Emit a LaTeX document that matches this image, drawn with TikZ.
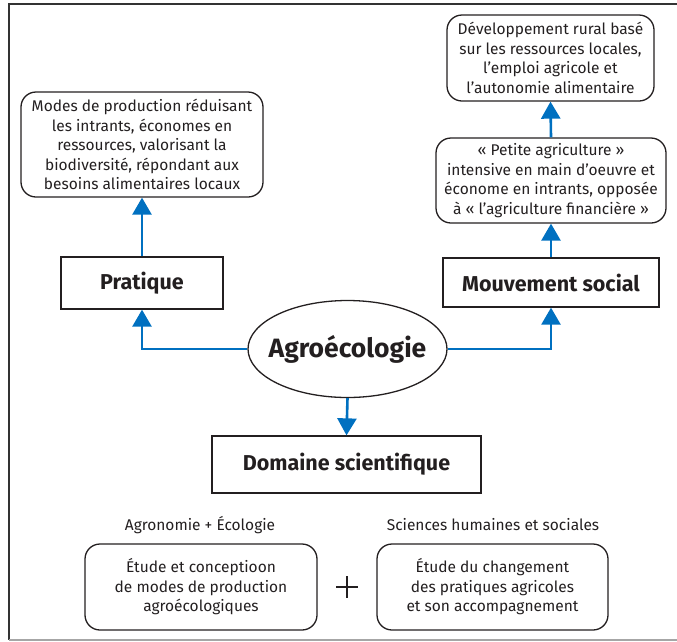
\documentclass[tikz,border=0pt]{standalone}
\usepackage{fontspec}
\setmainfont{Fira Sans}
\usetikzlibrary{arrows.meta,shapes.geometric}
\definecolor{arrowblue}{RGB}{0,112,192}
\definecolor{txt}{RGB}{35,31,32}
\tikzset{
  every node/.style={text=txt, font=\fontsize{15.5}{19.5}\selectfont},
  roundbox/.style={draw=txt, line width=1.3pt, rounded corners=15pt, align=center, inner sep=0pt},
  titlebox/.style={draw=txt, line width=1.3pt, align=center, inner sep=0pt, font=\fontsize{21.5}{24}\selectfont\bfseries},
  link/.style={draw=arrowblue, line width=2.6pt, -{Triangle[width=19pt,length=17pt]}},
  plussign/.style={minimum size=22pt, inner sep=0pt, path picture={
    \draw[txt, line width=1.6pt] (path picture bounding box.north) -- (path picture bounding box.south)
      (path picture bounding box.west) -- (path picture bounding box.east);}},
}
\begin{document}
\begin{tikzpicture}[x=1pt,y=-1pt]
\useasboundingbox (0,0) rectangle (677,641);
% frame
\draw[draw=black!80, line width=2pt] (677,3.5) -- (8.5,3.5) -- (8.5,640);
\draw[draw=black!35, line width=1.5pt] (8.5,640) -- (677,640);

\node[roundbox, minimum width=242pt, minimum height=105pt] (modes) at (142,144.5)
  {Modes de production réduisant\\les intrants, économes en\\ressources, valorisant la\\biodiversité, répondant aux\\besoins alimentaires locaux};
\node[titlebox, minimum width=162pt, minimum height=52pt] (pratique) at (142,283) {Pratique};

\node[roundbox, minimum width=207pt, minimum height=86pt] (dev) at (550.5,58)
  {Développement rural basé\\sur les ressources locales,\\l’emploi agricole et\\l’autonomie alimentaire};
\node[roundbox, minimum width=230pt, minimum height=85pt] (petite) at (551,180.5)
  {«~Petite agriculture~»\\intensive en main d’oeuvre et\\économe en intrants, opposée\\à «~l’agriculture financière~»};
\node[titlebox, minimum width=216pt, minimum height=49pt] (mouv) at (551,282.5) {Mouvement social};

\node[ellipse, draw=txt, line width=1.3pt, minimum width=199pt, minimum height=97pt, inner sep=0pt,
  font=\fontsize{26.5}{30}\selectfont\bfseries] (agro) at (347.5,349) {\makebox[0pt]{Agroécologie}};

\node[titlebox, minimum width=269pt, minimum height=57pt] (dom) at (346.5,464.5) {Domaine scientifique};

\node (lab1) at (200,525) {Agronomie + Écologie};
\node (lab2) at (493,525) {Sciences humaines et sociales};

\node[roundbox, minimum width=232pt, minimum height=86pt] (etude1) at (201,587)
  {Étude et conceptioon\\de modes de production\\agroécologiques};
\node[roundbox, minimum width=231pt, minimum height=86pt] (etude2) at (492.5,587)
  {Étude du changement\\des pratiques agricoles\\et son accompagnement};
\node[plussign] (plus) at (347,587) {};

% connectors
\draw[link] (pratique.north) -- (modes.south);
\draw[link] (mouv.north) -- (petite.south);
\draw[link] (petite.north) -- (dev.south);
\draw[link] (agro.west) -| (pratique.south);
\draw[link] (agro.east) -| (mouv.south);
\draw[link] (agro.south) -- (dom.north);
\end{tikzpicture}
\end{document}
